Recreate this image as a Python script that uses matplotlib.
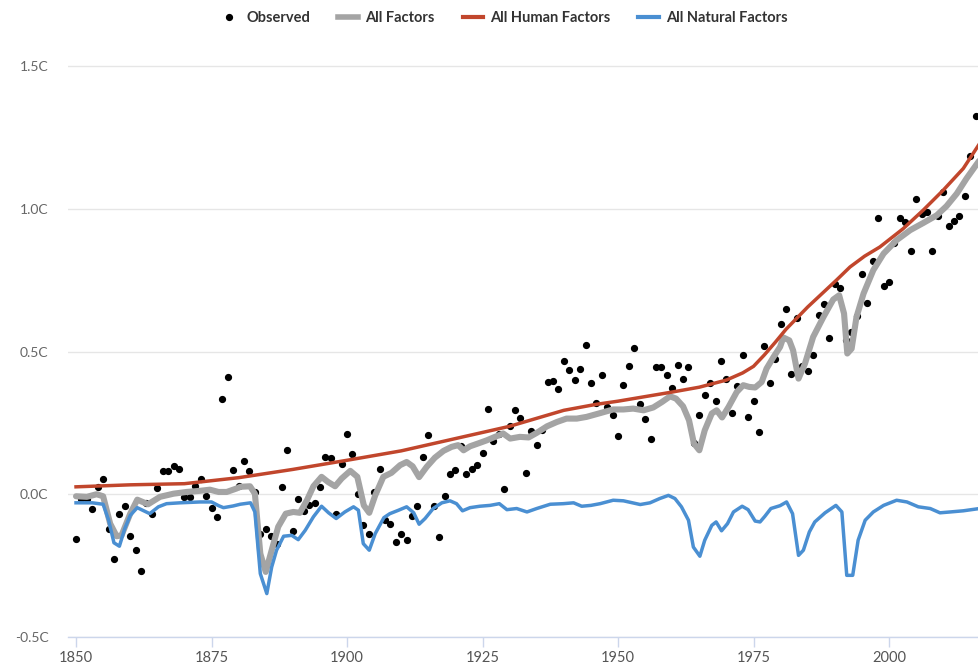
import matplotlib
matplotlib.use("Agg")
import matplotlib.pyplot as plt
from matplotlib.lines import Line2D
import numpy as np

plt.rcParams['font.family'] = ['Lato', 'DejaVu Sans']

# ---------------- data ----------------
obs_start = 1850
observed = [
    -0.155, -0.015, -0.015, -0.053, 0.026, 0.053, -0.12, -0.228, -0.068, -0.04,
    -0.146, -0.196, -0.269, -0.03, -0.068, 0.023, 0.08, 0.08, 0.1, 0.09,
    -0.01, -0.01, 0.03, 0.054, -0.007, -0.049, -0.08, 0.333, 0.411, 0.085,
    0.028, 0.117, 0.082, 0.008, -0.14, -0.123, -0.145, -0.173, 0.026, 0.154,
    -0.13, -0.016, -0.06, -0.036, -0.03, 0.026, 0.131, 0.126, -0.068, 0.107,
    0.212, 0.14, 0.002, -0.109, -0.14, 0.008, 0.09, -0.089, -0.105, -0.167,
    -0.14, -0.16, -0.077, -0.04, 0.131, 0.207, -0.042, -0.149, -0.006, 0.071,
    0.085, 0.168, 0.071, 0.09, 0.102, 0.145, 0.3, 0.186, 0.211, 0.02,
    0.238, 0.294, 0.266, 0.076, 0.22, 0.173, 0.224, 0.392, 0.398, 0.37,
    0.467, 0.435, 0.4, 0.44, 0.524, 0.39, 0.318, 0.418, 0.307, 0.278,
    0.204, 0.381, 0.45, 0.514, 0.315, 0.264, 0.195, 0.445, 0.445, 0.417,
    0.371, 0.454, 0.403, 0.444, 0.18, 0.279, 0.347, 0.391, 0.325, 0.468,
    0.402, 0.284, 0.38, 0.487, 0.269, 0.325, 0.218, 0.52, 0.388, 0.475,
    0.598, 0.648, 0.421, 0.616, 0.45, 0.433, 0.488, 0.627, 0.667, 0.546,
    0.736, 0.722, 0.539, 0.569, 0.625, 0.772, 0.671, 0.818, 0.966, 0.731,
    0.744, 0.88, 0.966, 0.954, 0.851, 1.034, 0.98, 0.99, 0.851, 0.975,
    1.058, 0.938, 0.957, 0.975, 1.044, 1.184, 1.325,
]
obs_years = list(range(obs_start, obs_start + len(observed)))

all_years = [
    1850, 1852, 1853.8, 1855, 1856.3, 1857.5, 1858.4, 1860, 1861.3, 1863.3,
    1865.5, 1868, 1870.4, 1872.9, 1874.7, 1876.3, 1877.8, 1879.6, 1880.3, 1882.1,
    1883, 1884, 1885, 1886.1, 1887.3, 1888.7, 1890.1, 1891.3, 1892.6, 1893.8,
    1895.3, 1896.5, 1897.8, 1899, 1900.6, 1901.9, 1903.1, 1904.1, 1905.2, 1906.7,
    1908.2, 1909.8, 1911, 1912.1, 1913.3, 1914.7, 1916.2, 1917.8, 1919.3, 1920.5,
    1921.5, 1922.7, 1924.2, 1925.8, 1927.3, 1928.8, 1930.1, 1931.9, 1933.5, 1935,
    1936.9, 1938.7, 1940.5, 1942.4, 1944.2, 1946.1, 1949.1, 1951, 1952.8, 1954.7,
    1956.5, 1958.1, 1959.6, 1960.7, 1962, 1963.1, 1964, 1965, 1966, 1967.3,
    1968.2, 1969.2, 1970.4, 1971.9, 1973.1, 1974.2, 1975.3, 1976.5, 1977.4, 1978.7,
    1979.9, 1980.5, 1981.6, 1982.3, 1983.3, 1984.5, 1986, 1987.9, 1989.7, 1990.8,
    1991.7, 1992.3, 1993.1, 1994, 1995.3, 1997.1, 1999, 2001.4, 2003.9, 2006.3,
    2008.8, 2010.6, 2012.5, 2014.3, 2016.7,
]
all_factors = [
    -0.007, -0.009, 0.0, -0.007, -0.103, -0.147, -0.144, -0.068, -0.019, -0.035,
    -0.009, 0.002, 0.008, 0.012, 0.016, 0.008, 0.008, 0.02, 0.026, 0.028,
    0.002, -0.208, -0.272, -0.196, -0.114, -0.068, -0.062, -0.065, -0.021, 0.028,
    0.061, 0.043, 0.028, 0.055, 0.082, 0.061, -0.039, -0.065, -0.004, 0.061,
    0.075, 0.102, 0.113, 0.098, 0.06, 0.096, 0.128, 0.152, 0.166, 0.172,
    0.154, 0.168, 0.178, 0.189, 0.201, 0.213, 0.195, 0.201, 0.199, 0.215,
    0.238, 0.253, 0.265, 0.265, 0.271, 0.281, 0.297, 0.297, 0.3, 0.294,
    0.304, 0.323, 0.343, 0.335, 0.308, 0.259, 0.178, 0.154, 0.224, 0.283,
    0.294, 0.269, 0.306, 0.358, 0.382, 0.376, 0.374, 0.393, 0.44, 0.481,
    0.516, 0.549, 0.539, 0.504, 0.405, 0.458, 0.551, 0.621, 0.682, 0.697,
    0.633, 0.493, 0.51, 0.621, 0.703, 0.785, 0.843, 0.89, 0.925, 0.95,
    0.977, 1.009, 1.053, 1.106, 1.17,
]

human_years = [
    1850, 1860, 1870, 1880, 1890, 1900, 1910, 1920, 1930, 1940, 1946, 1950,
    1960, 1965, 1970, 1973, 1975, 1977, 1979, 1981, 1985, 1990.3, 1992.8, 1995.5,
    1998.3, 2002.6, 2006.3, 2010, 2013.7, 2016.7,
]
human_factors = [
    0.026, 0.033, 0.037, 0.058, 0.087, 0.119, 0.152, 0.195, 0.238, 0.294, 0.315, 0.326,
    0.358, 0.375, 0.4, 0.425, 0.448, 0.488, 0.532, 0.578, 0.656, 0.75, 0.796, 0.834,
    0.866, 0.93, 0.995, 1.065, 1.141, 1.228,
]

natural_years = [
    1850, 1853, 1855, 1856, 1857, 1858, 1859, 1860, 1861.3, 1862.5,
    1863.6, 1865.2, 1866.7, 1869.2, 1872.9, 1875, 1876.3, 1877.2, 1879, 1880.3,
    1882.2, 1883, 1884, 1885.2, 1886.1, 1887, 1888.3, 1889.8, 1891, 1892.3,
    1893.8, 1895.3, 1896.6, 1898, 1899.6, 1901.2, 1902.1, 1903, 1904.1, 1905.2,
    1906.8, 1907.9, 1909.5, 1911, 1912.3, 1913.3, 1914.4, 1915.9, 1917.5, 1919,
    1920.2, 1921.3, 1922.7, 1924.5, 1926.4, 1928.1, 1929.5, 1931.3, 1933.2, 1935,
    1937.5, 1939.9, 1941.8, 1943.3, 1945, 1946.7, 1949.1, 1951, 1954.1, 1955.9,
    1957.7, 1959.3, 1960.5, 1961.7, 1963, 1963.9, 1965.1, 1966, 1967.3, 1968.1,
    1969.1, 1970.2, 1971.3, 1972.9, 1974, 1975.3, 1976.2, 1977.1, 1978.2, 1979.9,
    1981.1, 1982.2, 1983.3, 1984.2, 1985.3, 1986.3, 1988.2, 1990.2, 1991.3, 1992.2,
    1993.3, 1994.3, 1995.6, 1997.1, 1999, 2001.4, 2003.3, 2005.4, 2007.6, 2009.4,
    2011.3, 2013.7, 2016.7,
]
natural_factors = [
    -0.03, -0.03, -0.035, -0.09, -0.17, -0.182, -0.12, -0.074, -0.047, -0.058,
    -0.068, -0.044, -0.033, -0.03, -0.027, -0.027, -0.04, -0.047, -0.041, -0.035,
    -0.03, -0.062, -0.278, -0.348, -0.255, -0.196, -0.147, -0.144, -0.159, -0.126,
    -0.079, -0.042, -0.065, -0.085, -0.062, -0.044, -0.056, -0.173, -0.196, -0.138,
    -0.082, -0.068, -0.056, -0.044, -0.065, -0.105, -0.085, -0.05, -0.03, -0.023,
    -0.033, -0.058, -0.047, -0.042, -0.039, -0.033, -0.054, -0.05, -0.062, -0.05,
    -0.035, -0.033, -0.03, -0.042, -0.039, -0.033, -0.021, -0.023, -0.036, -0.03,
    -0.015, -0.004, -0.015, -0.044, -0.091, -0.185, -0.217, -0.161, -0.109, -0.097,
    -0.128, -0.103, -0.062, -0.042, -0.054, -0.094, -0.097, -0.077, -0.05, -0.04,
    -0.027, -0.068, -0.214, -0.196, -0.132, -0.097, -0.065, -0.039, -0.062, -0.284,
    -0.284, -0.161, -0.091, -0.062, -0.039, -0.021, -0.027, -0.044, -0.05, -0.065,
    -0.062, -0.058, -0.05,
]

x_ticks = [1850, 1875, 1900, 1925, 1950, 1975, 2000]
y_ticks = [-0.5, 0.0, 0.5, 1.0, 1.5]
y_tick_labels = ["-0.5C", "0.0C", "0.5C", "1.0C", "1.5C"]

labels = ["Observed", "All Factors", "All Human Factors", "All Natural Factors"]
c_gray = "#a4a4a4"
c_red = "#c1462c"
c_blue = "#4a8fd2"

# ---------------- figure ----------------
W, H = 979, 666
fig = plt.figure(figsize=(W / 100, H / 100), dpi=100)
ax_left = 68 / W
ax_bottom = (H - 637) / H
ax_top_px = 37.45
ax = fig.add_axes([ax_left, ax_bottom, 1 - ax_left, (637 - ax_top_px) / H])

ax.plot(obs_years, observed, linestyle="none", marker="o", markersize=4.2,
        color="black", zorder=2)
ax.plot(all_years, all_factors, color=c_gray, lw=4.4, zorder=3,
        solid_joinstyle="round", solid_capstyle="round")
ax.plot(human_years, human_factors, color=c_red, lw=2.5, zorder=4,
        solid_joinstyle="round")
ax.plot(natural_years, natural_factors, color=c_blue, lw=2.5, zorder=5,
        solid_joinstyle="round")

ax.set_xlim(1848.52, 2016.6)
ax.set_ylim(-0.5, 1.6)

ax.set_yticks(y_ticks)
ax.set_yticklabels(y_tick_labels)
ax.set_xticks(x_ticks)
ax.set_xticklabels([str(t) for t in x_ticks])

ax.grid(axis="y", color="#e6e6e6", lw=1, zorder=0)
ax.set_axisbelow(True)
for s in ["top", "right", "left"]:
    ax.spines[s].set_visible(False)
ax.spines["bottom"].set_color("#ccd6eb")
ax.spines["bottom"].set_linewidth(1)

ax.tick_params(axis="y", length=0, pad=14, labelsize=10, labelcolor="#666666")
ax.tick_params(axis="x", length=7, width=1, color="#ccd6eb", pad=3,
               labelsize=10.5, labelcolor="#555555")

handles = [
    Line2D([], [], linestyle="none", marker="o", markersize=4.2, color="black"),
    Line2D([], [], color=c_gray, lw=4),
    Line2D([], [], color=c_red, lw=3),
    Line2D([], [], color=c_blue, lw=3),
]
leg = fig.legend(handles, labels, loc="center", ncol=4, frameon=False,
                 bbox_to_anchor=(503 / W, 1 - 18.5 / H),
                 prop={"size": 10.5, "weight": "bold"},
                 handlelength=1.4, handletextpad=0.5, columnspacing=1.9)
for t in leg.get_texts():
    t.set_color("#333333")

fig.savefig("out.png", dpi=100)
